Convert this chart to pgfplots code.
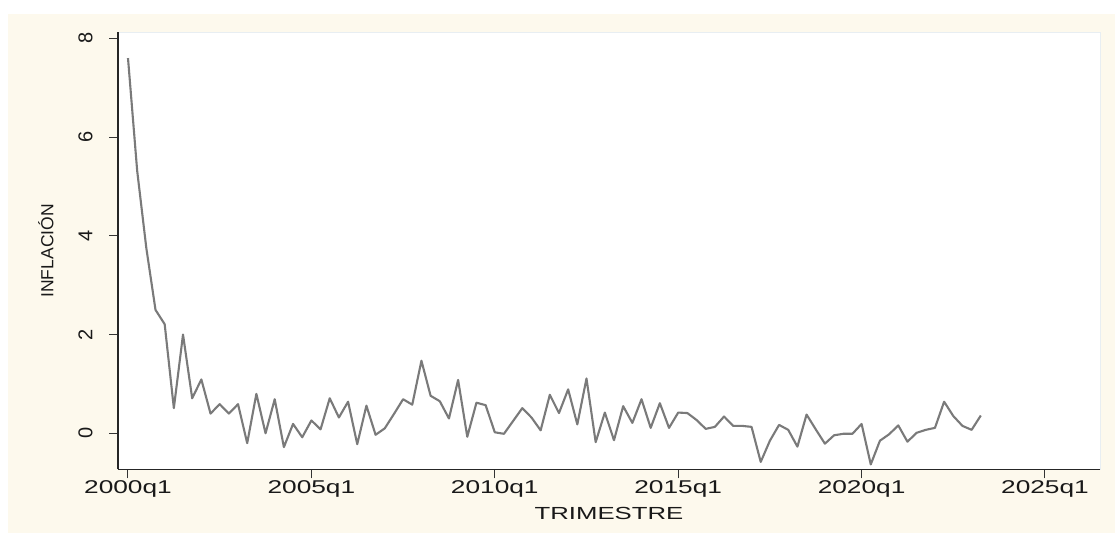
\documentclass[border=0pt]{standalone}
\usepackage{pgfplots}
\pgfplotsset{compat=1.18}
\usepackage{pgfplotstable}
\usepackage{fontspec}
\setmainfont{Liberation Sans}
\definecolor{cream}{RGB}{253,249,237}
\definecolor{pborder}{RGB}{232,238,242}
\definecolor{lineg}{RGB}{122,122,122}
\pgfplotstableread{
n v
0 7.60
1 5.32
2 3.75
3 2.50
4 2.21
5 0.51
6 2.00
7 0.71
8 1.09
9 0.40
10 0.59
11 0.40
12 0.59
13 -0.20
14 0.80
15 0.00
16 0.69
17 -0.28
18 0.19
19 -0.08
20 0.26
21 0.08
22 0.71
23 0.32
24 0.64
25 -0.22
26 0.56
27 -0.03
28 0.10
29 0.39
30 0.69
31 0.58
32 1.47
33 0.76
34 0.65
35 0.30
36 1.08
37 -0.07
38 0.62
39 0.57
40 0.02
41 -0.01
42 0.25
43 0.51
44 0.32
45 0.06
46 0.78
47 0.41
48 0.89
49 0.18
50 1.11
51 -0.18
52 0.42
53 -0.14
54 0.55
55 0.21
56 0.69
57 0.11
58 0.61
59 0.11
60 0.42
61 0.41
62 0.27
63 0.09
64 0.13
65 0.34
66 0.15
67 0.15
68 0.13
69 -0.58
70 -0.15
71 0.17
72 0.07
73 -0.27
74 0.38
75 0.08
76 -0.21
77 -0.04
78 -0.01
79 -0.01
80 0.19
81 -0.63
82 -0.15
83 -0.02
84 0.16
85 -0.17
86 0.01
87 0.07
88 0.11
89 0.64
90 0.35
91 0.15
92 0.07
93 0.36
}\datatable
\begin{document}
\begin{tikzpicture}[x=1pt,y=1pt]
\path[fill=white] (0,0) rectangle (1115,534);
\fill[cream] (8,1) rectangle (1115,520);
\begin{axis}[
  at={(118pt,64.7pt)}, anchor=south west,
  scale only axis, width=982pt, height=436.8pt,
  xmin=-1.09, xmax=106.0, ymin=-0.729, ymax=8.118,
  axis background/.style={fill=white, draw=pborder, line width=0.8pt},
  axis x line*=bottom, axis y line*=left,
  axis line style={-, black!85, line width=1.2pt},
  tick style={black!80, line width=1pt},
  tick align=outside, major tick length=9pt,
  xtick={0,20,40,60,80,100},
  xticklabels={\scalebox{1.42}[1]{2000q1},\scalebox{1.42}[1]{2005q1},\scalebox{1.42}[1]{2010q1},\scalebox{1.42}[1]{2015q1},\scalebox{1.42}[1]{2020q1},\scalebox{1.42}[1]{2025q1}},
  ytick={0,2,4,6,8},
  yticklabels={0,2,4,6,8},
  ticklabel style={text=black!90},
  x tick label style={font=\fontsize{18.5}{21}\selectfont, yshift=1pt},
  y tick label style={font=\fontsize{20}{22}\selectfont, rotate=90, anchor=south},
  yticklabel shift=13pt,
  xlabel={\scalebox{1.47}[1]{TRIMESTRE}},
  ylabel={INFLACIÓN},
  label style={font=\fontsize{17.5}{20}\selectfont, text=black!90},
  xlabel style={yshift=-3pt},
  ylabel style={yshift=18pt},
  clip=true,
]
\addplot[lineg, line width=2.1pt, line join=round] table[x=n,y=v] {\datatable};
\end{axis}
\end{tikzpicture}
\end{document}
